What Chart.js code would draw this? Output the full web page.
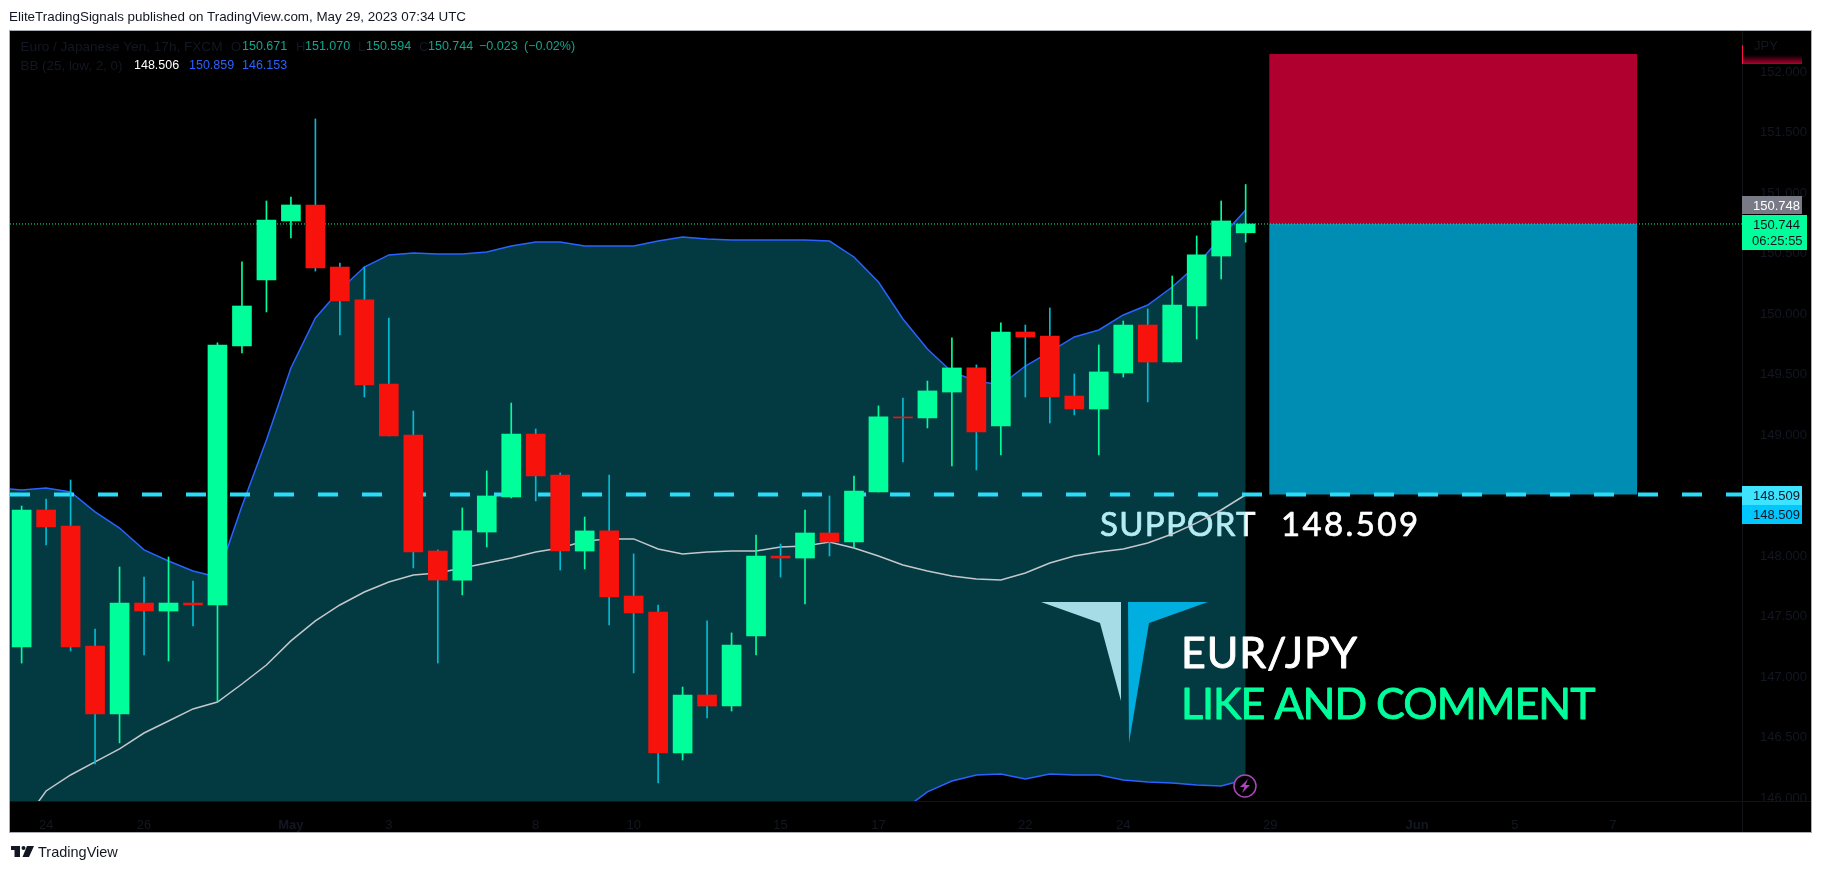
<!DOCTYPE html>
<html><head><meta charset="utf-8">
<script src="https://cdn.jsdelivr.net/npm/chart.js@4"></script>
<style>
html,body{margin:0;padding:0;background:#fff;width:1822px;height:872px;overflow:hidden}
canvas{position:absolute;left:0;top:0}
.t{position:absolute;white-space:pre;font-family:"Liberation Sans",sans-serif}
</style></head><body>
<canvas id="c" width="1822" height="872"></canvas>
<div class="t" id="head" style="left:9px;top:9px;font-size:13.4px;color:#131722">EliteTradingSignals published on TradingView.com, May 29, 2023 07:34 UTC</div>
<div class="t" id="foot" style="left:38px;top:844px;font-size:14.5px;color:#131722">TradingView</div>
<script>
// ---- OHLC of the 17h candles, oldest first
const opens  = [147.248,148.380,148.248,147.256,146.694,147.611,147.545,147.611,147.595,149.736,150.281,150.769,150.901,150.388,150.116,149.421,149.000,148.041,147.801,148.198,148.488,149.008,148.669,148.041,148.207,147.669,147.537,146.372,146.851,146.760,147.339,147.999,147.983,148.190,148.116,148.529,149.149,149.141,149.355,149.554,149.074,149.851,149.818,149.322,149.215,149.513,149.909,149.603,150.066,150.479,150.671];
const highs  = [148.413,148.471,148.628,147.396,147.909,147.826,147.992,147.793,149.761,150.430,150.934,150.967,151.612,150.421,150.388,149.967,149.198,148.050,148.397,148.703,149.264,149.050,148.686,148.322,148.669,148.017,147.595,146.917,147.463,147.364,148.173,148.099,148.380,148.496,148.661,149.240,149.306,149.446,149.802,149.579,149.926,149.909,150.050,149.504,149.744,149.942,150.041,150.314,150.645,150.934,151.070];
const lows   = [147.115,148.091,147.215,146.281,146.455,147.182,147.132,147.421,146.793,149.678,150.017,150.628,150.355,149.827,149.314,148.992,147.901,147.115,147.678,148.074,148.479,148.455,147.884,147.893,147.430,147.033,146.124,146.314,146.661,146.719,147.182,147.826,147.603,148.000,148.066,148.529,148.777,149.058,148.744,148.711,148.835,149.314,149.099,149.166,148.835,149.479,149.273,149.603,149.793,150.289,150.594];
const closes = [148.380,148.240,147.248,146.694,147.611,147.545,147.611,147.595,149.744,150.066,150.777,150.901,150.380,150.108,149.413,148.992,148.033,147.801,148.207,148.496,149.008,148.661,148.041,148.207,147.661,147.529,146.372,146.851,146.760,147.264,147.999,147.983,148.190,148.116,148.537,149.149,149.141,149.364,149.554,149.025,149.851,149.810,149.314,149.215,149.521,149.909,149.603,150.074,150.488,150.769,150.744];
// ---- Bollinger Bands (25, low, 2, 0); first value belongs to the bar just left of the view
const bbStart = -1;
const bbUpper = [148.562,148.545,148.562,148.529,148.364,148.231,148.050,147.959,147.876,147.826,148.413,148.959,149.554,149.967,150.198,150.388,150.488,150.504,150.496,150.496,150.512,150.562,150.595,150.595,150.562,150.562,150.562,150.603,150.636,150.620,150.612,150.612,150.612,150.612,150.603,150.471,150.264,149.959,149.711,149.521,149.446,149.413,149.570,149.686,149.810,149.868,149.992,150.074,150.223,150.405,150.636,150.859];
const bbBasis = [145.570,145.777,146.058,146.190,146.298,146.405,146.537,146.636,146.736,146.793,146.942,147.099,147.298,147.463,147.595,147.702,147.785,147.843,147.859,147.901,147.942,147.983,148.033,148.066,148.124,148.141,148.141,148.058,148.017,148.033,148.041,148.041,148.074,148.083,148.116,148.066,148.000,147.926,147.876,147.835,147.810,147.802,147.859,147.942,148.000,148.033,148.058,148.107,148.182,148.273,148.380,148.506];
const bbLower = [142.578,143.008,143.554,143.851,144.231,144.579,145.025,145.314,145.595,145.760,145.471,145.240,145.041,144.959,144.992,145.017,145.083,145.182,145.223,145.306,145.372,145.405,145.471,145.537,145.686,145.719,145.719,145.512,145.397,145.446,145.471,145.471,145.537,145.554,145.628,145.661,145.736,145.901,146.050,146.140,146.190,146.198,146.157,146.198,146.190,146.190,146.149,146.132,146.124,146.107,146.099,146.153];
// ---- Levels and the long-position box
const lastPrice = 150.744, supportPrice = 148.509, boxTop = 152.149;
const boxBars = [50.96, 66];
// ---- Axes
const xMin = -0.475, xMax = 70.275, yMin = 145.975, yMax = 152.347;
const priceTicks = [146,146.5,147,147.5,148,149,149.5,150,150.5,151,151.5,152];
const timeTickBars = [1,5,11,15,21,25,31,35,41,45,51,57,61,65];
const timeTickLabels = ['24','26','May','3','8','10','15','17','22','24','29','Jun','5','7'];
// ---- Legend text
const legendRows = [
 [[20.5,47,'Euro / Japanese Yen, 17h, FXCM','#131722',13.6],[231,47,'O','#131722',13],[242,47,'150.671','#12a58c',12.5],[296,47,'H','#131722',13],[305,47,'151.070','#12a58c',12.5],[358,47,'L','#131722',13],[366,47,'150.594','#12a58c',12.5],[419,47,'C','#131722',13],[428,47,'150.744','#12a58c',12.5],[479,47,'\u22120.023','#12a58c',12.5],[524,47,'(\u22120.02%)','#12a58c',12.5]],
 [[20.5,66,'BB (25, low, 2, 0)','#131722',13.4],[134,66,'148.506','#ffffff',12.5],[189,66,'150.859','#2962ff',12.5],[242,66,'146.153','#2962ff',12.5]]
];
const GREEN='#00ff9a', RED='#f7120c', WICKRED='#00bcd4';

const idx = opens.map((_,i)=>i);
const isUp = i => closes[i]>=opens[i];
const bbPts = a => a.map((v,i)=>({x:i+bbStart,y:v}));

function heavyText(c,t,x,y,w){ c.lineWidth=w; c.lineJoin='round'; c.strokeStyle=c.fillStyle; c.strokeText(t,x,y); c.fillText(t,x,y); }

const overlay = {
  id:'overlay',
  beforeDraw(ch){
    const c=ch.ctx;
    c.save();
    c.fillStyle='#000'; c.fillRect(10,30,1801,802);
    c.restore();
  },
  beforeDatasetsDraw(ch){
    const c=ch.ctx;
    c.save();
    c.font='33px Lato, sans-serif'; c.fillStyle='#fff'; c.textBaseline='alphabetic';
    c.letterSpacing='1.3px';
    heavyText(c,'SUPPORT',1100,536,0.7);
    c.letterSpacing='2.4px';
    heavyText(c,'148.509',1281,536,0.7);
    c.restore();
  },
  afterDraw(ch){
    const c=ch.ctx;
    c.save();
    // pane separators and frame
    c.fillStyle='#000'; c.fillRect(1743,802,68,30);
    c.fillStyle='#101216'; c.fillRect(1742,30,1,802); c.fillRect(10,801,1801,1);
    c.strokeStyle='#a9acb5'; c.lineWidth=1; c.strokeRect(9.5,30.5,1802,802);
    // logo
    c.fillStyle='#a5dce6'; c.beginPath(); c.moveTo(1041,602);c.lineTo(1121,602);c.lineTo(1121,701);c.lineTo(1100,623);c.closePath();c.fill();
    c.fillStyle='#00aee0'; c.beginPath(); c.moveTo(1128,602);c.lineTo(1208,602);c.lineTo(1149,623);c.lineTo(1129,743);c.closePath();c.fill();
    // texts
    c.textBaseline='alphabetic';
    c.font='43px Lato, sans-serif'; c.fillStyle='#fff';
    c.letterSpacing='0.9px'; heavyText(c,'EUR/JPY',1181,668,0.9);
    c.fillStyle=GREEN;
    c.letterSpacing='-1px'; heavyText(c,'LIKE AND COMMENT',1181,719,0.9);
    c.letterSpacing='0px';
    // legend
    c.textBaseline='middle';
    legendRows.flat().forEach(([x,y,t,col,sz])=>{c.font=sz+'px "Liberation Sans", sans-serif';c.fillStyle=col;c.fillText(t,x,y);});
    c.font='13px "Liberation Sans", sans-serif';
    c.fillStyle='#131722'; c.fillText('JPY',1754,46);
    // price labels
    const g=c.createLinearGradient(0,55,0,64); g.addColorStop(0,'#000'); g.addColorStop(1,'#b0002f');
    c.fillStyle=g; c.fillRect(1742,55,60,9);
    c.fillStyle='#f7124c'; c.fillRect(1742,45,1,19);
    c.fillStyle='#787b86'; c.fillRect(1742,196,60,18);
    c.fillStyle=GREEN; c.fillRect(1742,215,65,35);
    c.fillStyle='#3de3ff'; c.fillRect(1742,486,60,19);
    c.fillStyle='#00c8ff'; c.fillRect(1742,505,60,19);
    c.fillStyle='#fff'; c.fillText('150.748',1753,206);
    c.fillStyle='#131722';
    c.fillText('150.744',1753,225); c.fillText('06:25:55',1752,241);
    c.fillText('148.509',1753,496); c.fillText('148.509',1753,515);
    // event marker
    c.fillStyle='#000'; c.strokeStyle='#ab47bc'; c.lineWidth=1.5;
    c.beginPath(); c.arc(1245,786,11,0,Math.PI*2); c.fill(); c.stroke();
    c.fillStyle='#ab47bc'; c.beginPath();
    c.moveTo(1248,779);c.lineTo(1240,787);c.lineTo(1244.5,787);c.lineTo(1242,793);c.lineTo(1250,785);c.lineTo(1245.5,785);c.closePath();c.fill();
    // TradingView mark
    c.fillStyle='#131722';
    c.fillRect(11,846,9,4); c.fillRect(14.5,846,5.5,11);
    c.beginPath(); c.arc(23.5,848,2,0,Math.PI*2); c.fill();
    c.beginPath(); c.moveTo(27,846);c.lineTo(34,846);c.lineTo(29,857);c.lineTo(22.5,857);c.closePath(); c.fill();
    c.restore();
  }
};

new Chart(document.getElementById('c'),{
  type:'bar',
  plugins:[overlay],
  data:{datasets:[
    {type:'line',label:'BB upper',data:bbPts(bbUpper),borderColor:'#2962ff',borderWidth:1.5,pointRadius:0,tension:0,fill:'+1',backgroundColor:'rgba(10,193,220,0.30)',order:20},
    {type:'line',label:'BB lower',data:bbPts(bbLower),borderColor:'#2962ff',borderWidth:1.5,pointRadius:0,tension:0,fill:false,order:19},
    {type:'line',label:'BB basis',data:bbPts(bbBasis),borderColor:'#c4c7cc',borderWidth:1.5,pointRadius:0,tension:0,fill:false,order:18},
    {type:'line',label:'Long box profit',data:boxBars.map(x=>({x,y:lastPrice})),borderWidth:0,pointRadius:0,fill:{value:boxTop},backgroundColor:'#b0002f',order:17},
    {type:'line',label:'Long box stop',data:boxBars.map(x=>({x,y:lastPrice})),borderWidth:0,pointRadius:0,fill:{value:supportPrice},backgroundColor:'#008db3',order:16},
    {type:'line',label:'Support',data:[{x:xMin,y:supportPrice},{x:xMax,y:supportPrice}],borderColor:'#2bdcf7',borderWidth:4,borderDash:[20,24],pointRadius:0,fill:false,order:15},
    {type:'line',label:'Last',data:[{x:xMin,y:lastPrice},{x:xMax,y:lastPrice}],borderColor:GREEN,borderWidth:1,borderDash:[1,2],pointRadius:0,fill:false,order:14},
    {type:'bar',label:'Wicks',data:idx.map(i=>({x:i,y:[lows[i],highs[i]]})),backgroundColor:idx.map(i=>isUp(i)?GREEN:WICKRED),barThickness:1,grouped:false,borderWidth:0,order:2},
    {type:'bar',label:'Bodies',data:idx.map(i=>({x:i,y:[opens[i],closes[i]]})),backgroundColor:idx.map(i=>isUp(i)?GREEN:RED),barThickness:19,grouped:false,borderWidth:0,order:1}
  ]},
  options:{
    responsive:false,animation:false,devicePixelRatio:1,
    layout:{padding:{left:10,top:30,right:11,bottom:40}},
    plugins:{legend:{display:false},tooltip:{enabled:false},title:{display:false}},
    scales:{
      x:{type:'linear',min:xMin,max:xMax,offset:false,
        afterFit:s=>{s.height=31;},
        afterBuildTicks:s=>{s.ticks=timeTickBars.map(v=>({value:v}));},
        grid:{display:false},border:{display:false},
        ticks:{autoSkip:false,maxRotation:0,padding:9,color:'#131722',
          font:c=>({family:'"Liberation Sans", sans-serif',size:13,weight:timeTickLabels[timeTickBars.indexOf(c.tick&&c.tick.value)]==='May'||timeTickLabels[timeTickBars.indexOf(c.tick&&c.tick.value)]==='Jun'?'bold':'normal'}),
          callback:v=>timeTickLabels[timeTickBars.indexOf(v)]}},
      y:{type:'linear',position:'right',min:yMin,max:yMax,
        afterFit:s=>{s.width=69;},
        afterBuildTicks:s=>{s.ticks=priceTicks.map(v=>({value:v}));},
        grid:{display:false},border:{display:false},
        ticks:{autoSkip:false,padding:10,color:'#131722',font:{family:'"Liberation Sans", sans-serif',size:13},callback:v=>v.toFixed(3)}}
    }
  }
});
</script>
</body></html>
